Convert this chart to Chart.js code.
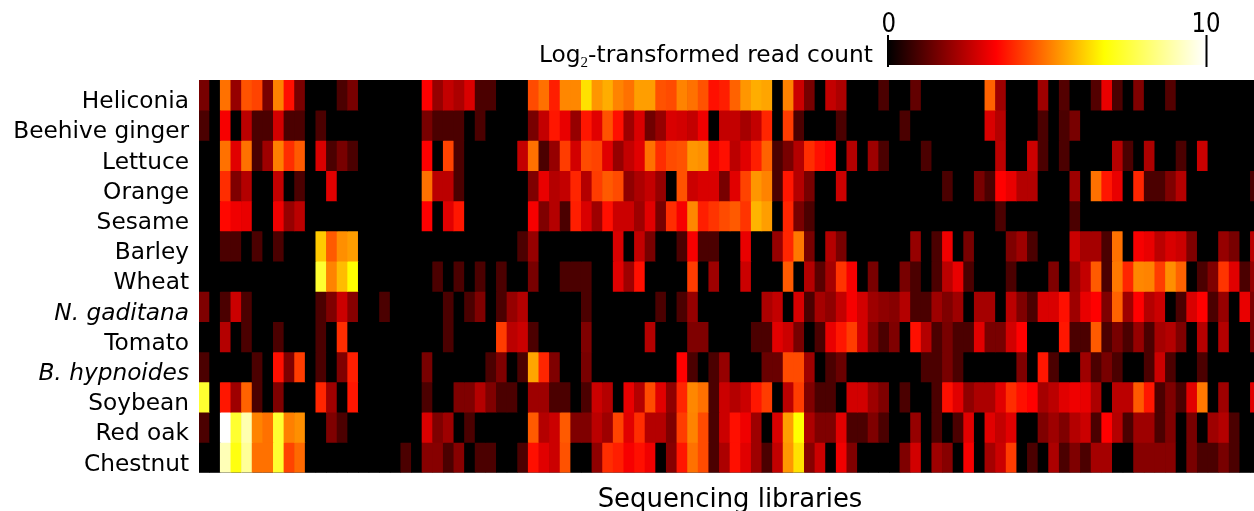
<!DOCTYPE html>
<html>
<head>
<meta charset="utf-8">
<style>
  html, body { margin: 0; padding: 0; background: #fff; overflow: hidden; }
  canvas { display: block; }
</style>
<script src="https://cdn.jsdelivr.net/npm/chart.js@4/dist/chart.umd.min.js"></script>
</head>
<body>
<canvas id="heat" width="1254" height="511"></canvas>
<script>
var rowNames = ['Heliconia', 'Beehive ginger', 'Lettuce', 'Orange', 'Sesame', 'Barley', 'Wheat',
                'N. gaditana', 'Tomato', 'B. hypnoides', 'Soybean', 'Red oak', 'Chestnut'];
var italicRows = ['N. gaditana', 'B. hypnoides'];

// log2 read counts, 100 libraries per row
var heliconia = [1.6,0,4.9,2,4.5,4.3,1.6,5.15,3.6,1.6, 0,0,0,1,1.6,0,0,0,0,0, 0,3.4,2,2.6,2.3,2.9,1,1,0,0,
  0,4.4,4.9,3.8,5.2,5.2,6.4,5.4,5.7,5.15, 4.9,5.5,5.5,4.5,4.4,5.15,4.9,4.5,3.6,3.8, 4.7,5.4,5.7,5.6,0,5.15,2.7,1.6,0,2.6,
  2.3,0,0,0,1,0,0,1.3,0,0, 0,0,0,0,4.7,2.1,0,0,0,2.1, 0,1.1,0,0,1.1,3.1,1,0,1.7,0, 0,1.1,0,0,0,0,0,0,0,0];
var beehiveGinger = [1,0,3.3,0,2.5,1,1,2.8,1,1, 0,1,0,0,0,0,0,0,0,0, 0,1.6,1,1,1,0,1,0,0,0,
  0,1.6,2.6,3.7,3.1,2,3.7,3,4.5,3.6, 2.1,2.9,1.5,2,2.9,2.8,2.6,3.2,0,2.6, 2.6,2.2,2.6,3.9,0,4.2,1,0,0,0,
  1,0,0,0,0,0,1,0,0,0, 0,0,0,0,2.9,2.4,0,0,0,1, 0,1,1.6,0,0,0,0,0,0,0, 0,0,0,0,0,0,0,0,0,0];
var lettuce = [0,0,4.9,3,4.9,1,2.1,5.1,4,4.6, 0,2.9,1,1.6,1,0,0,0,0,0, 0,3.4,0,4.3,1,0,0,0,0,0,
  2.6,4.9,1,2,4.2,2.8,4.4,4.3,3,2, 2.6,3,4.9,4,4.4,4.5,5.4,5.3,3.2,3.6, 2.5,3,3.8,4.7,1,1.6,2.4,4,3.6,3.4,
  0,2.4,0,2.1,1,0,0,0,1,0, 0,0,0,0,0,2.5,0,0,2.7,1, 0,1,0,0,0,0,2.4,1,0,2.3, 0,0,1,0,2.7,0,0,0,0,0];
var orange = [0,0,4,1.7,2.4,0,0,2.6,0,1, 0,0,3,0,0,0,0,0,0,0, 0,4.9,2.5,2.5,1,0,0,0,0,0,
  0,1.7,3.1,2.4,2.6,3.9,2.4,4.2,4.6,4.4, 1.9,2.3,2.6,2,0,4.5,2.7,2.9,2.9,1.6, 3,4.3,5.4,5.15,1,3.7,2.4,1.6,0,0,
  2.7,0,0,0,0,0,0,0,0,0, 1,0,0,1.6,1,3.4,3.1,2.4,2.4,0, 0,0,2.1,0,4.9,3.7,3.1,0,3.9,1, 1,1.7,2.4,0,0,0,0,0,0,1];
var sesame = [0,0,3.5,3.2,3.1,0,0,3.2,2,2.5, 0,0,0,0,0,0,0,0,0,0, 0,3.4,0,3,3.7,0,0,0,0,0,
  0,3.3,1.7,2.4,1,3.8,2.9,2.1,3.6,2.7, 2.7,2.1,3,1.6,4,3.3,5.2,3.8,4.1,4.4, 4.6,4.1,5.8,5.5,0,3.9,1.6,1,0,0,
  0,0,0,0,0,0,0,0,0,0, 0,0,0,0,0,1,0,0,0,0, 0,0,1,0,0,0,0,0,0,0, 0,0,0,0,0,0,0,0,0,0];
var barley = [0,0,1,1,0,1,0,1,0,0, 0,6.1,4.6,5.3,5.5,0,0,0,0,0, 0,0,0,0,0,0,0,0,0,0,
  1,2,0,0,0,0,0,0,0,2.9, 0,2.6,1.6,0,0,1,3.3,1,1,0, 0,3.1,0,0,2,3.9,5,1.6,0,2.4,
  1.6,0,0,0,0,0,0,2,0,1, 3.2,0,1.6,0,0,0,1.7,2.1,1,0, 0,0,2.7,2.2,2.2,1,4.9,0,3.3,3.1, 2.5,2.9,2.7,1.7,0,0,2,1.6,0,2.5];
var wheat = [0,0,0,0,0,0,0,0,0,0, 0,7.4,5.15,5.9,6.8,0,0,0,0,0, 0,0,1,0,1,0,1,0,1,0,
  0,1.6,0,0,1,1,1,0,0,3, 2.1,3.6,0,0,0,0,4.2,0,2.1,0, 0,2.7,0,0,0,4.6,0,2.4,1.2,2.2,
  4.1,3.3,0,1.6,0,0,1.6,1,0,1, 2.5,3.1,1,0,0,0,1,0,0,0, 1.7,0,2,2.6,4.6,1,5,3.9,5.2,5.15, 4.2,5.3,4.7,0,1,1.7,4.1,3,1,2];
var gaditana = [1.7,0,1,2.7,1,0,0,0,0,0, 0,1,1.7,2.7,1.8,0,0,1,0,0, 0,0,0,1,0,1,1.7,0,1,2,
  2.4,0,0,0,0,0,1,0,0,0, 0,0,0,1,0,1,2,0,0,0, 0,0,0,2.3,2.6,0,2.9,1,2.2,1.9,
  2.6,3.3,2.8,2.1,1.9,1.8,2.4,1,1,2.1, 1.7,2.1,0,2.2,2.2,0,2.5,1.7,1,2.9, 2.9,3.6,2.1,3.1,3.4,1.7,4.7,2.1,3.4,2.4, 2.7,0,1,2.9,3.4,1,2,0,3.1,1.7];
var tomato = [0,0,2.4,0,1,0,0,1,0,0, 0,1,0,4,0,0,0,0,0,0, 0,0,0,1,0,0,0,0,4.2,2.5,
  2.7,1,0,0,0,0,1.7,0,0,0, 0,0,2.4,0,0,0,1.7,1.7,0,0, 0,0,1,1,3,2.7,1.6,0,1,3.1,
  3.7,4.2,2.8,1.7,1,1.7,0,3.6,2.4,1, 1.6,1,1,3,1.6,1.6,2.8,3.4,0,0, 0,3.7,1,1,4.6,1,1.6,1,2,1, 2.2,2.4,1.7,0,2.4,0,2.4,0,0,1.7];
var hypnoides = [1,0,0,0,0,1,0,3.6,1.7,4.2, 0,1,0,1.7,3.8,0,0,0,0,0, 0,1.6,0,0,0,0,0,1,1.7,0,
  1,5.6,3.9,1.7,0,0,1.6,0,0,0, 0,0,0,0,0,3.4,1,0,1,2, 0,0,0,1.4,1.4,4.4,4.4,2.1,0,1,
  1.4,0,0,0,0,0,0,0,1,1, 1.6,1,0,0,0,0,0,1.7,0,3.7, 1,0,0,2.1,1,1.6,1,0,0,1, 2.7,1,0,0,1,0,0,0,0,0];
var soybean = [7.4,0,3.7,2.1,4.7,1,0,1.7,0,0, 0,3.9,2.1,0,3.7,0,0,0,0,0, 0,1,0,0,1.7,1.7,2.4,1.7,1,1,
  0,2.1,2.1,1,1,0,1,2.7,2.4,0, 3.1,2.4,4.4,3,1.9,3.9,5.2,4.9,1,2.7, 2.4,2.7,3.7,4.2,0,2.5,4.2,1.7,1,1,
  0,2.8,2.8,2.1,1.7,0,1,0,0,1, 3.6,3,1.9,2.3,2.3,3,4,3.6,3.4,2.2, 2.5,3,3.2,3.1,2.3,0,2.5,2.5,4.6,3.7, 1,1.7,1,3,5,0,2.1,0,0,3];
var redOak = [1,0,10,7.4,9,5.15,4.9,7.4,5.1,5.3, 0,0,1.7,1,0,0,0,0,0,0, 0,2.9,1.7,2.1,0,1,0,0,0,0,
  0,4.6,2.4,2.7,4.6,1.7,1.7,2.5,2.1,4.3, 3,4,2.4,2.4,1.7,4.2,5.15,4.4,1,2.7, 3.6,3.2,2.1,0,2.9,5.5,6.8,2.3,1.7,1.7,
  3,1,1,1.7,1,0,0,2,0,1, 0,1,3,0,3,2.6,3,0,0,1.7, 2.1,1.7,2.4,2.7,1,3.4,2.4,1,2.1,2.1, 1,1.7,0,1.6,0,2.1,2.4,1,0,0];
var chestnut = [0,0,9.1,7,8.7,4.9,4.9,7.4,4.3,4.8, 0,0,0,0,0,0,0,0,0,1, 0,1.8,1.8,1,1.8,0,1,1,0,0,
  1,3.6,3,2.7,4.5,0,0,1.9,4,3.8, 3.3,3.6,3.2,0,1.8,3.7,4.9,4.4,1,2.3, 3.6,3,2.1,1,2.6,5.4,6.4,1.8,2.7,0,
  3.2,1.7,0,0,0,0,1.7,2.8,0,2.1, 1.8,0,3.3,0,2.2,2.7,4.2,0,1,0, 2.3,1,1.7,1,2.2,2.2,0,0,1.8,1.8, 1.8,1.8,0,1.6,1,1,1.6,1,0,0];

var rowValues = [heliconia, beehiveGinger, lettuce, orange, sesame, barley, wheat,
                 gaditana, tomato, hypnoides, soybean, redOak, chestnut];

var FONT = '"DejaVu Sans"';
var VMAX = 10;

// black > red > yellow > white
function hot(v) {
  var t = v / VMAX;
  var r = Math.min(1, t / 0.34);
  var g = Math.max(0, Math.min(1, (t - 0.34) / 0.34));
  var b = Math.max(0, Math.min(1, (t - 0.68) / 0.32));
  return 'rgb(' + Math.round(r * 255) + ',' + Math.round(g * 255) + ',' + Math.round(b * 255) + ')';
}

var datasets = rowValues.map(function (vals, r) {
  return {
    label: rowNames[r],
    data: vals.map(function (v, c) { return { x: c, y: [r, r + 1] }; }),
    backgroundColor: vals.map(hot),
    grouped: false,
    barPercentage: 1,
    categoryPercentage: 1,
    borderWidth: 0
  };
});

// colour bar, axis title and the black behind the cells
var extras = {
  id: 'extras',
  beforeDatasetsDraw: function (chart) {
    var a = chart.chartArea, ctx = chart.ctx;
    ctx.save();
    ctx.fillStyle = '#000';
    ctx.fillRect(a.left, a.top, a.right - a.left, a.bottom - a.top);
    ctx.restore();
  },
  afterDraw: function (chart) {
    var ctx = chart.ctx;
    var x0 = 888, x1 = 1206, y0 = 40, y1 = 65;
    ctx.save();
    var grad = ctx.createLinearGradient(x0, 0, x1, 0);
    [0, 0.17, 0.34, 0.51, 0.68, 0.84, 1].forEach(function (s) { grad.addColorStop(s, hot(s * VMAX)); });
    ctx.fillStyle = grad;
    ctx.fillRect(x0, y0, x1 - x0, y1 - y0);
    ctx.fillStyle = '#000';
    ctx.fillRect(x0 - 1, 35, 2, 32);
    ctx.fillRect(x1 - 0.5, 35, 2, 32);

    ctx.textBaseline = 'alphabetic';
    ctx.textAlign = 'center';
    // the colour bar labels are a bit narrow in the original
    ctx.font = '26px ' + FONT;
    ctx.save();
    ctx.translate(x0 + 0.7, 32.3);
    ctx.scale(0.88, 1);
    ctx.fillText('0', 0, 0);
    ctx.restore();
    ctx.save();
    ctx.translate(x1, 32.3);
    ctx.scale(0.88, 1);
    ctx.fillText('10', 0, 0);
    ctx.restore();
    ctx.font = '25.9px ' + FONT;
    ctx.fillText('Sequencing libraries', 730, 507);

    ctx.textAlign = 'left';
    var x = 539;
    ctx.font = '23.3px ' + FONT;
    ctx.fillText('Log', x, 62);
    x += ctx.measureText('Log').width;
    ctx.font = '15px "Liberation Serif"';
    ctx.fillText('2', x, 67);
    x += ctx.measureText('2').width;
    ctx.font = '23.3px ' + FONT;
    ctx.fillText('-transformed read count', x, 62);
    ctx.restore();
  }
};

new Chart(document.getElementById('heat'), {
  type: 'bar',
  data: { datasets: datasets },
  plugins: [extras],
  options: {
    responsive: false,
    animation: false,
    layout: { padding: { top: 80, right: 0, bottom: 0, left: 0 } },
    plugins: { legend: { display: false }, tooltip: { enabled: false } },
    scales: {
      x: {
        type: 'linear',
        offset: false,
        min: -0.5,
        max: 98.84,
        grid: { display: false },
        border: { display: false },
        ticks: { display: false },
        afterFit: function (s) { s.height = 38.4; }
      },
      y: {
        type: 'linear',
        reverse: true,
        min: 0,
        max: 13,
        grid: { display: false, drawTicks: false },
        border: { display: false },
        afterBuildTicks: function (s) {
          s.ticks = rowNames.map(function (n, i) { return { value: i + 0.5 }; });
        },
        afterFit: function (s) { s.width = 199; },
        ticks: {
          autoSkip: false,
          padding: 10,
          labelOffset: 7,
          color: '#000',
          callback: function (v, i) { return rowNames[i]; },
          font: function (ctx) {
            var name = rowNames[ctx.index];
            return { family: FONT, size: 23.25, style: italicRows.indexOf(name) >= 0 ? 'italic' : 'normal' };
          }
        }
      }
    }
  }
});
</script>
</body>
</html>
